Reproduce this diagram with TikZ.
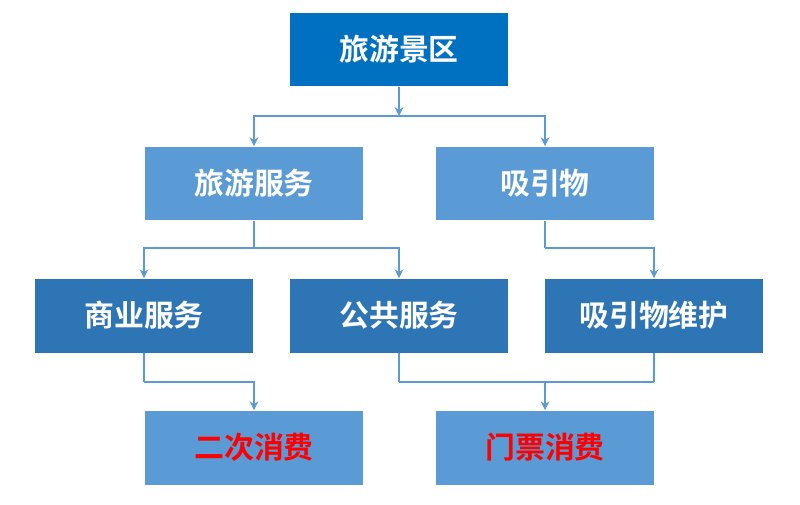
\documentclass[tikz,border=0pt]{standalone}
\usepackage{fontspec}
\newfontfamily\cjk{Noto Sans CJK SC Bold}
\usetikzlibrary{arrows.meta}
\definecolor{topc}{HTML}{0070C0}
\definecolor{lightc}{HTML}{5B9BD5}
\definecolor{midc}{HTML}{2E75B6}
\definecolor{linec}{HTML}{5B9BD5}
\definecolor{redc}{HTML}{FF0000}
\begin{document}
\begin{tikzpicture}[x=0.02cm,y=-0.02cm,
 box/.style={minimum width=4.36cm,minimum height=1.48cm,inner sep=0pt,text=white,font=\cjk\fontsize{17}{20}\selectfont},
 con/.style={draw=linec,line width=1pt},
 arr/.style={con,-{Stealth[length=5pt,width=5pt]}}]
\useasboundingbox (0,0) rectangle (800,504);
\node[box,fill=topc] (a) at (399,49.5) {旅游景区};
\node[box,fill=lightc] (b) at (254,183.5) {旅游服务};
\node[box,fill=lightc] (c) at (545,183.5) {吸引物};
\node[box,fill=midc] (d) at (144,315.5) {商业服务};
\node[box,fill=midc] (e) at (399,315.5) {公共服务};
\node[box,fill=midc] (f) at (654,315.5) {吸引物维护};
\node[box,fill=lightc,text=redc] (g) at (254,447.5) {二次消费};
\node[box,fill=lightc,text=redc] (h) at (545,447.5) {门票消费};
\coordinate (j1) at (399,116);
\draw[arr] (a) -- (j1);
\draw[arr] (j1) -| (b);
\draw[arr] (j1) -| (c);
\coordinate (j2) at (254,248);
\draw[con] (b) -- (j2);
\draw[arr] (j2) -| (d);
\draw[arr] (j2) -| (e);
\coordinate (j3) at (545,248);
\draw[con] (c) -- (j3);
\draw[arr] (j3) -| (f);
\coordinate (j4) at (144,382);
\draw[con] (d) -- (j4);
\draw[arr] (j4) -| (g);
\coordinate (j5) at (399,382);
\coordinate (j6) at (654,382);
\draw[con] (e) -- (j5);
\draw[con] (f) -- (j6);
\draw[con] (j5) -- (j6);
\draw[arr] (545,382) -- (h);
\end{tikzpicture}
\end{document}
